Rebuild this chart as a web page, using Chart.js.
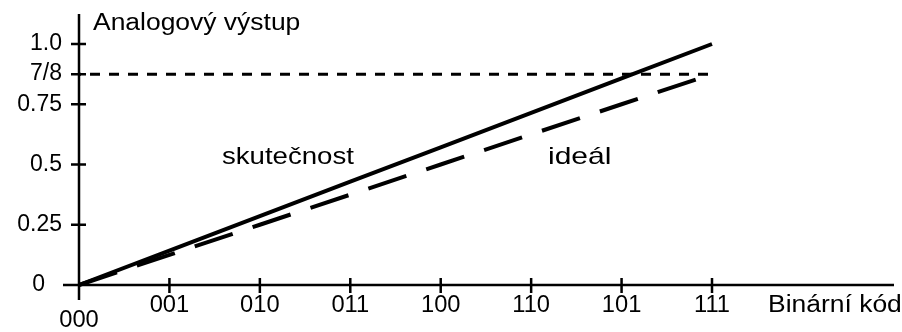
<!DOCTYPE html>
<html lang="cs">
<head>
  <meta charset="UTF-8">
  <title>Analogový výstup</title>
  <script src="https://cdn.jsdelivr.net/npm/chart.js"></script>
  <style>
    body {
      margin: 0;
      background: #fff;
    }
    canvas {
      display: block;
    }
  </style>
</head>
<body>
  <canvas id="dacChart" width="902" height="332"></canvas>

  <script>
    // data
    const codes = ['000', '001', '010', '011', '100', '110', '101', '111'];
    const skutecnost = [0, 0.143, 0.286, 0.429, 0.571, 0.714, 0.857, 1.0];
    const ideal = [0, 0.125, 0.25, 0.375, 0.5, 0.625, 0.75, 0.875];
    const yTicks = [0, 0.25, 0.5, 0.75, 0.875, 1.0];
    const yTickLabels = ['0', '0.25', '0.5', '0.75', '7/8', '1.0'];
    const refLevel = 0.875;

    const FONT = '"Liberation Sans", Arial, sans-serif';

    function text(ctx, str, x, y, size, align, sx) {
      ctx.save();
      ctx.font = size + 'px ' + FONT;
      ctx.fillStyle = '#000';
      ctx.textBaseline = 'middle';
      ctx.textAlign = align;
      ctx.translate(x, y);
      ctx.scale(sx || 1, 1);
      ctx.fillText(str, 0, 0);
      ctx.restore();
    }

    const axesPlugin = {
      id: 'axes',
      beforeDatasetsDraw(chart) {
        const ctx = chart.ctx;
        const xs = chart.scales.x, ys = chart.scales.y;
        const x0 = xs.getPixelForValue(0), y0 = ys.getPixelForValue(0);
        ctx.save();
        ctx.strokeStyle = '#000';
        ctx.lineWidth = 2.5;
        ctx.beginPath();
        // y axis
        ctx.moveTo(x0, 14); ctx.lineTo(x0, 300);
        // x axis
        ctx.moveTo(63, y0); ctx.lineTo(894, y0);
        yTicks.forEach(v => {
          const y = ys.getPixelForValue(v);
          if (v === 0) return;
          ctx.moveTo(x0 - 8, y); ctx.lineTo(x0 + 7, y);
        });
        codes.forEach((c, i) => {
          if (i === 0) return;
          const x = xs.getPixelForValue(i);
          ctx.moveTo(x, y0 - 7); ctx.lineTo(x, y0 + 8);
        });
        ctx.stroke();
        ctx.restore();
      },
      afterDraw(chart) {
        const ctx = chart.ctx;
        const xs = chart.scales.x, ys = chart.scales.y;
        const x0 = xs.getPixelForValue(0), y0 = ys.getPixelForValue(0);
        yTicks.forEach((v, i) => {
          const y = ys.getPixelForValue(v);
          if (v === 0) text(ctx, yTickLabels[i], 45, y, 23, 'right', 1.0);
          else text(ctx, yTickLabels[i], 62, y, 23, 'right', 1.0);
        });
        codes.forEach((c, i) => {
          const x = xs.getPixelForValue(i);
          text(ctx, c, x, i === 0 ? y0 + 36 : y0 + 21, 23, 'center', 1.03);
        });
        text(ctx, 'Binární kód', 768, y0 + 21, 23, 'left', 1.15);
        text(ctx, 'Analogový výstup', x0 + 14, 24, 23, 'left', 1.15);
        text(ctx, 'skutečnost', 222, 157, 24, 'left', 1.15);
        text(ctx, 'ideál', 548, 157, 24, 'left', 1.25);
      }
    };

    const toPoints = arr => arr.map((v, i) => ({ x: i, y: v }));

    new Chart(document.getElementById('dacChart'), {
      type: 'line',
      data: {
        datasets: [
          {
            label: 'skutečnost',
            data: toPoints(skutecnost),
            borderColor: '#000',
            borderWidth: 4,
            pointRadius: 0,
            clip: false
          },
          {
            label: 'ideál',
            data: toPoints(ideal),
            borderColor: '#000',
            borderWidth: 4,
            borderDash: [40, 21],
            pointRadius: 0,
            clip: false
          },
          {
            label: '7/8',
            data: [{ x: 0, y: refLevel }, { x: codes.length - 1, y: refLevel }],
            borderColor: '#000',
            borderWidth: 3,
            borderDash: [10, 9],
            borderDashOffset: 8,
            pointRadius: 0,
            clip: false
          }
        ]
      },
      options: {
        responsive: false,
        devicePixelRatio: 1,
        animation: false,
        layout: { padding: { left: 79, right: 190, top: 44, bottom: 47 } },
        scales: {
          x: { type: 'linear', min: 0, max: codes.length - 1, display: false },
          y: { min: 0, max: 1, display: false }
        },
        plugins: {
          legend: { display: false },
          tooltip: { enabled: false }
        }
      },
      plugins: [axesPlugin]
    });
  </script>
</body>
</html>
